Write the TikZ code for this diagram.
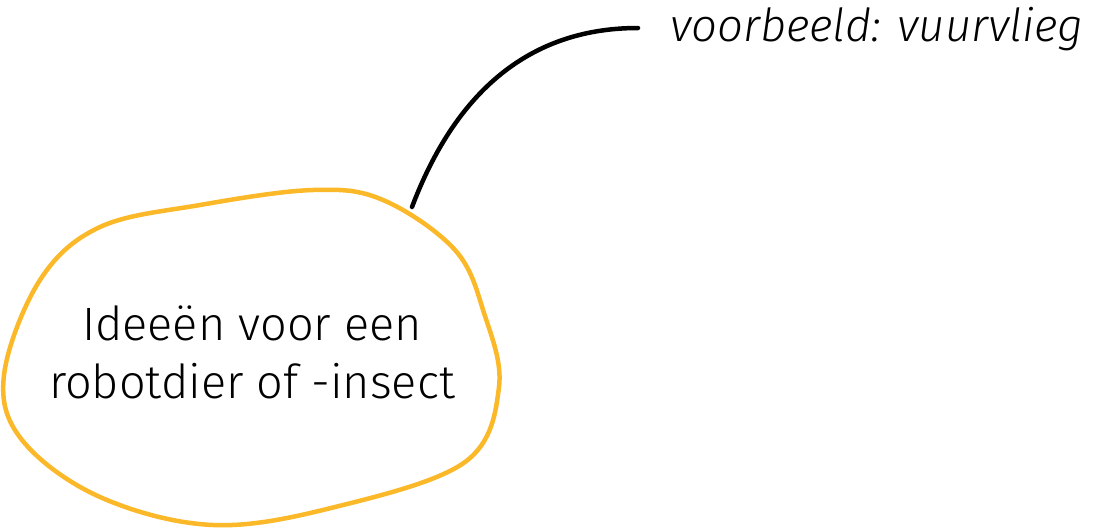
\documentclass[tikz,border=0pt]{standalone}
\usepackage{fontspec}
\setmainfont{Fira Sans}[UprightFont=* Light, ItalicFont=* Light Italic]
\definecolor{blobyellow}{HTML}{FBB829}
\tikzset{
  blob/.style={draw=blobyellow, line width=4.5pt, line join=round},
  leader/.style={draw=black, line width=4.5pt, line cap=round},
  maintext/.style={align=center, font=\fontsize{46.8}{58}\selectfont, inner sep=0pt},
  labeltext/.style={font=\fontsize{45.5}{52}\selectfont\itshape, inner sep=0pt}
}
\begin{document}
\begin{tikzpicture}[x=1pt,y=-1pt]
\useasboundingbox (0,0) rectangle (1101,528);
\draw[blob] plot[smooth cycle, tension=0.6] coordinates {
  (313,190) (200,205) (100,227) (40,280) (4,375) (22,440) (100,497)
  (213,525) (335,507) (465,462) (499,387) (484,313) (455,250) (383,200)};
\node[maintext] (idea) at (252,352) {Ideeën voor een\\robotdier of -insect};
\node[labeltext, anchor=base west] (lbl) at (670,41) {voorbeeld: vuurvlieg};
\coordinate (attach) at (412,207);
\coordinate (lblend) at (638,28);
\draw[leader] (attach) .. controls (462,75) and (545,28) .. (lblend);
\end{tikzpicture}
\end{document}
